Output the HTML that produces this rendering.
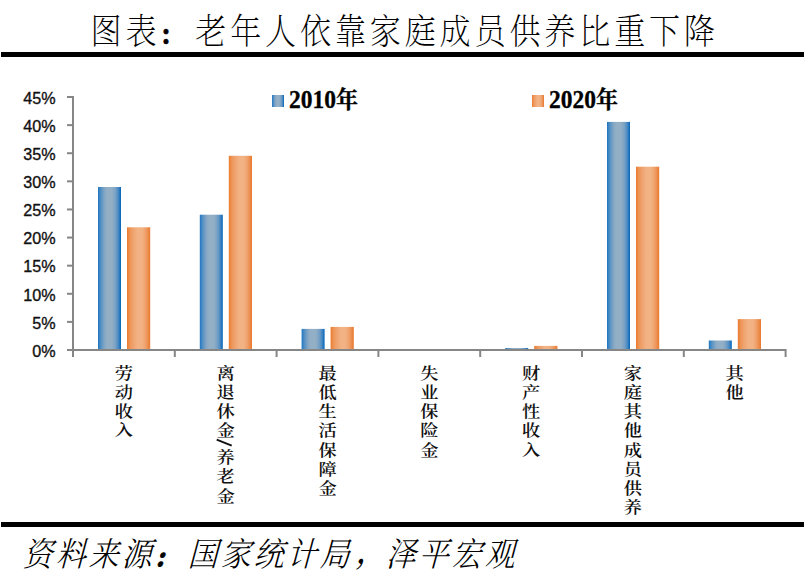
<!DOCTYPE html>
<html><head><meta charset="utf-8"><style>
html,body{margin:0;padding:0;background:#fff;}
body{width:807px;height:577px;overflow:hidden;position:relative;}
svg{position:absolute;left:0;top:0;}
.title{font-family:"Liberation Serif","Noto Serif CJK SC",serif;font-weight:200;font-size:32px;fill:#000;}
.src{font-family:"Liberation Serif","Noto Serif CJK SC",serif;font-weight:300;font-size:30px;fill:#000;}
.yl{font-family:"Liberation Sans","DejaVu Sans",sans-serif;font-size:17px;fill:#111;stroke:#111;stroke-width:0.35px;}
.xl{font-family:"Liberation Serif","Noto Serif CJK SC",serif;font-weight:600;font-size:16px;fill:#111;}
.pc{font-size:22.5px;font-weight:900;letter-spacing:0;stroke:#000;stroke-width:0.6px;}
.pc2{font-size:21.5px;font-weight:900;letter-spacing:0;stroke:#000;stroke-width:0.9px;}
.pcm{font-weight:500;}
.lg{font-family:"Liberation Serif","Noto Serif CJK SC",serif;font-weight:700;font-size:23.5px;fill:#000;stroke:#000;stroke-width:0.3px;}
</style></head><body>
<svg width="807" height="577" viewBox="0 0 807 577">
<defs>
<linearGradient id="gb" x1="0" y1="0" x2="1" y2="0">
<stop offset="0" stop-color="#1a72c0"/><stop offset="0.05" stop-color="#3582c3"/><stop offset="0.15" stop-color="#5c95c4"/><stop offset="0.3" stop-color="#88a8c5"/><stop offset="0.4" stop-color="#93afc6"/><stop offset="0.6" stop-color="#93afc6"/><stop offset="0.75" stop-color="#7aa2c5"/><stop offset="0.88" stop-color="#4b8bc3"/><stop offset="0.96" stop-color="#1a70bd"/><stop offset="1" stop-color="#0066b8"/>
</linearGradient>
<linearGradient id="go" x1="0" y1="0" x2="1" y2="0">
<stop offset="0" stop-color="#e9782e"/><stop offset="0.05" stop-color="#ec8640"/><stop offset="0.15" stop-color="#ee985c"/><stop offset="0.3" stop-color="#f0a674"/><stop offset="0.45" stop-color="#f2b283"/><stop offset="0.65" stop-color="#f2b283"/><stop offset="0.8" stop-color="#efa06b"/><stop offset="0.92" stop-color="#ec8a48"/><stop offset="1" stop-color="#e9782e"/>
</linearGradient>
</defs>

<text class="title" x="0" y="0" letter-spacing="4" transform="translate(90.5,44.3) scale(0.97,1.10)">图表<tspan class="pc" x="71.30" y="0.00">：</tspan><tspan x="108" y="0">老年人依靠家庭成员供养比重下降</tspan></text>
<rect x="1" y="52" width="803" height="5" fill="#000"/>
<rect x="1" y="522" width="803" height="5" fill="#000"/>
<text class="src" x="0" y="0" letter-spacing="3" transform="translate(22.5,566.4) skewX(-15) scale(1,1.11)">资料来源<tspan class="pc2" x="131.20" y="0.60">：</tspan><tspan x="165" y="0">国家统计局</tspan><tspan class="pcm" x="332.20" y="-3.20">，</tspan><tspan x="363" y="0">泽平宏观</tspan></text>
<rect x="98.00" y="187.00" width="23.0" height="162.50" fill="url(#gb)"/>
<rect x="127.00" y="227.30" width="23.2" height="122.20" fill="url(#go)"/>
<rect x="199.80" y="214.70" width="23.0" height="134.80" fill="url(#gb)"/>
<rect x="228.80" y="155.80" width="23.2" height="193.70" fill="url(#go)"/>
<rect x="301.60" y="328.90" width="23.0" height="20.60" fill="url(#gb)"/>
<rect x="330.60" y="326.90" width="23.2" height="22.60" fill="url(#go)"/>
<rect x="505.20" y="348.00" width="23.0" height="1.50" fill="url(#gb)"/>
<rect x="534.20" y="345.90" width="23.2" height="3.60" fill="url(#go)"/>
<rect x="607.00" y="121.90" width="23.0" height="227.60" fill="url(#gb)"/>
<rect x="636.00" y="166.70" width="23.2" height="182.80" fill="url(#go)"/>
<rect x="708.80" y="340.50" width="23.0" height="9.00" fill="url(#gb)"/>
<rect x="737.80" y="319.10" width="23.2" height="30.40" fill="url(#go)"/>
<rect x="72" y="96" width="2" height="261" fill="#868686"/>
<rect x="67" y="349.00" width="6" height="2" fill="#868686"/>
<rect x="67" y="320.89" width="6" height="2" fill="#868686"/>
<rect x="67" y="292.78" width="6" height="2" fill="#868686"/>
<rect x="67" y="264.67" width="6" height="2" fill="#868686"/>
<rect x="67" y="236.56" width="6" height="2" fill="#868686"/>
<rect x="67" y="208.45" width="6" height="2" fill="#868686"/>
<rect x="67" y="180.34" width="6" height="2" fill="#868686"/>
<rect x="67" y="152.23" width="6" height="2" fill="#868686"/>
<rect x="67" y="124.12" width="6" height="2" fill="#868686"/>
<rect x="67" y="96.01" width="6" height="2" fill="#868686"/>
<rect x="67" y="349" width="719" height="2" fill="#868686"/>
<rect x="72.00" y="349" width="2" height="8" fill="#868686"/>
<rect x="173.80" y="349" width="2" height="8" fill="#868686"/>
<rect x="275.60" y="349" width="2" height="8" fill="#868686"/>
<rect x="377.40" y="349" width="2" height="8" fill="#868686"/>
<rect x="479.20" y="349" width="2" height="8" fill="#868686"/>
<rect x="581.00" y="349" width="2" height="8" fill="#868686"/>
<rect x="682.80" y="349" width="2" height="8" fill="#868686"/>
<rect x="784.60" y="349" width="2" height="8" fill="#868686"/>
<text class="yl" x="0" y="0" text-anchor="end" transform="translate(55.5,356.80) scale(0.95,1)">0%</text>
<text class="yl" x="0" y="0" text-anchor="end" transform="translate(55.5,328.69) scale(0.95,1)">5%</text>
<text class="yl" x="0" y="0" text-anchor="end" transform="translate(55.5,300.58) scale(0.95,1)">10%</text>
<text class="yl" x="0" y="0" text-anchor="end" transform="translate(55.5,272.47) scale(0.95,1)">15%</text>
<text class="yl" x="0" y="0" text-anchor="end" transform="translate(55.5,244.36) scale(0.95,1)">20%</text>
<text class="yl" x="0" y="0" text-anchor="end" transform="translate(55.5,216.25) scale(0.95,1)">25%</text>
<text class="yl" x="0" y="0" text-anchor="end" transform="translate(55.5,188.14) scale(0.95,1)">30%</text>
<text class="yl" x="0" y="0" text-anchor="end" transform="translate(55.5,160.03) scale(0.95,1)">35%</text>
<text class="yl" x="0" y="0" text-anchor="end" transform="translate(55.5,131.92) scale(0.95,1)">40%</text>
<text class="yl" x="0" y="0" text-anchor="end" transform="translate(55.5,103.81) scale(0.95,1)">45%</text>
<text class="xl" x="0" y="0" text-anchor="middle" transform="translate(123.90,379.00) scale(1.14,1)">劳</text>
<text class="xl" x="0" y="0" text-anchor="middle" transform="translate(123.90,398.15) scale(1.14,1)">动</text>
<text class="xl" x="0" y="0" text-anchor="middle" transform="translate(123.90,417.30) scale(1.14,1)">收</text>
<text class="xl" x="0" y="0" text-anchor="middle" transform="translate(123.90,436.45) scale(1.14,1)">入</text>
<text class="xl" x="0" y="0" text-anchor="middle" transform="translate(225.70,379.00) scale(1.14,1)">离</text>
<text class="xl" x="0" y="0" text-anchor="middle" transform="translate(225.70,398.15) scale(1.14,1)">退</text>
<text class="xl" x="0" y="0" text-anchor="middle" transform="translate(225.70,417.30) scale(1.14,1)">休</text>
<text class="xl" x="0" y="0" text-anchor="middle" transform="translate(225.70,436.45) scale(1.14,1)">金</text>
<line x1="216.70" y1="439.60" x2="231.70" y2="445.60" stroke="#111" stroke-width="2"/>
<text class="xl" x="0" y="0" text-anchor="middle" transform="translate(225.70,463.30) scale(1.14,1)">养</text>
<text class="xl" x="0" y="0" text-anchor="middle" transform="translate(225.70,482.45) scale(1.14,1)">老</text>
<text class="xl" x="0" y="0" text-anchor="middle" transform="translate(225.70,501.60) scale(1.14,1)">金</text>
<text class="xl" x="0" y="0" text-anchor="middle" transform="translate(327.50,379.00) scale(1.14,1)">最</text>
<text class="xl" x="0" y="0" text-anchor="middle" transform="translate(327.50,398.15) scale(1.14,1)">低</text>
<text class="xl" x="0" y="0" text-anchor="middle" transform="translate(327.50,417.30) scale(1.14,1)">生</text>
<text class="xl" x="0" y="0" text-anchor="middle" transform="translate(327.50,436.45) scale(1.14,1)">活</text>
<text class="xl" x="0" y="0" text-anchor="middle" transform="translate(327.50,455.60) scale(1.14,1)">保</text>
<text class="xl" x="0" y="0" text-anchor="middle" transform="translate(327.50,474.75) scale(1.14,1)">障</text>
<text class="xl" x="0" y="0" text-anchor="middle" transform="translate(327.50,493.90) scale(1.14,1)">金</text>
<text class="xl" x="0" y="0" text-anchor="middle" transform="translate(429.30,379.00) scale(1.14,1)">失</text>
<text class="xl" x="0" y="0" text-anchor="middle" transform="translate(429.30,398.15) scale(1.14,1)">业</text>
<text class="xl" x="0" y="0" text-anchor="middle" transform="translate(429.30,417.30) scale(1.14,1)">保</text>
<text class="xl" x="0" y="0" text-anchor="middle" transform="translate(429.30,436.45) scale(1.14,1)">险</text>
<text class="xl" x="0" y="0" text-anchor="middle" transform="translate(429.30,455.60) scale(1.14,1)">金</text>
<text class="xl" x="0" y="0" text-anchor="middle" transform="translate(531.10,379.00) scale(1.14,1)">财</text>
<text class="xl" x="0" y="0" text-anchor="middle" transform="translate(531.10,398.15) scale(1.14,1)">产</text>
<text class="xl" x="0" y="0" text-anchor="middle" transform="translate(531.10,417.30) scale(1.14,1)">性</text>
<text class="xl" x="0" y="0" text-anchor="middle" transform="translate(531.10,436.45) scale(1.14,1)">收</text>
<text class="xl" x="0" y="0" text-anchor="middle" transform="translate(531.10,455.60) scale(1.14,1)">入</text>
<text class="xl" x="0" y="0" text-anchor="middle" transform="translate(632.90,379.00) scale(1.14,1)">家</text>
<text class="xl" x="0" y="0" text-anchor="middle" transform="translate(632.90,398.15) scale(1.14,1)">庭</text>
<text class="xl" x="0" y="0" text-anchor="middle" transform="translate(632.90,417.30) scale(1.14,1)">其</text>
<text class="xl" x="0" y="0" text-anchor="middle" transform="translate(632.90,436.45) scale(1.14,1)">他</text>
<text class="xl" x="0" y="0" text-anchor="middle" transform="translate(632.90,455.60) scale(1.14,1)">成</text>
<text class="xl" x="0" y="0" text-anchor="middle" transform="translate(632.90,474.75) scale(1.14,1)">员</text>
<text class="xl" x="0" y="0" text-anchor="middle" transform="translate(632.90,493.90) scale(1.14,1)">供</text>
<text class="xl" x="0" y="0" text-anchor="middle" transform="translate(632.90,513.05) scale(1.14,1)">养</text>
<text class="xl" x="0" y="0" text-anchor="middle" transform="translate(734.70,379.00) scale(1.14,1)">其</text>
<text class="xl" x="0" y="0" text-anchor="middle" transform="translate(734.70,398.15) scale(1.14,1)">他</text>
<rect x="272" y="95" width="12" height="12" fill="url(#gb)"/>
<text class="lg" x="0" y="0" transform="translate(289,107.6) scale(1,1.07)">2010<tspan font-size="22">年</tspan></text>
<rect x="532" y="95" width="12" height="12" fill="url(#go)"/>
<text class="lg" x="0" y="0" transform="translate(549,107.6) scale(1,1.07)">2020<tspan font-size="22">年</tspan></text>
</svg></body></html>
